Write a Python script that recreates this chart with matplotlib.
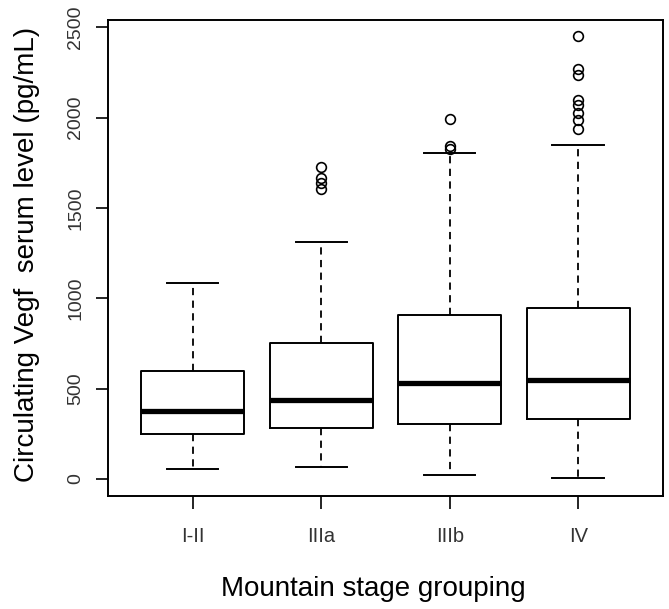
import matplotlib
matplotlib.use("Agg")
import matplotlib.pyplot as plt

# Werte (pg/mL)
groups = ["I-II", "IIIa", "IIIb", "IV"]
whisker_low = [54, 68, 20, 4]
q1 = [251, 281, 306, 331]
median = [376, 436, 533, 550]
q3 = [600, 753, 908, 949]
whisker_high = [1087, 1314, 1805, 1849]
outliers = [
    [],
    [1606, 1637, 1665, 1726],
    [1826, 1844, 1993],
    [1936, 1988, 2025, 2069, 2097, 2237, 2270, 2453],
]
y_ticks = [0, 500, 1000, 1500, 2000, 2500]

plt.rcParams['font.family'] = ['Liberation Sans', 'DejaVu Sans']

stats = []
for i, name in enumerate(groups):
    stats.append({
        'label': name,
        'whislo': whisker_low[i],
        'q1': q1[i],
        'med': median[i],
        'q3': q3[i],
        'whishi': whisker_high[i],
        'fliers': outliers[i],
    })

fig = plt.figure(figsize=(6.69, 6.09), dpi=100)
ax = fig.add_axes([0.1614, 0.1856, 0.8296, 0.7816])

ax.bxp(stats, positions=[1, 2, 3, 4], widths=0.8,
       boxprops=dict(color='black', linewidth=1.4),
       medianprops=dict(color='black', linewidth=3.8, solid_capstyle='butt'),
       whiskerprops=dict(color='black', linewidth=1.3, linestyle=(0, (4, 3))),
       capprops=dict(color='black', linewidth=1.4),
       capwidths=0.4,
       flierprops=dict(marker='o', markerfacecolor='none', markeredgecolor='black',
                       markersize=7, markeredgewidth=1.2))

ax.set_xlim(0.34, 4.66)
ax.set_ylim(-94, 2541)
ax.set_yticks(y_ticks)
ax.set_yticklabels([str(v) for v in y_ticks], rotation=90, va='center')
ax.set_xticks([1, 2, 3, 4])
ax.set_xticklabels(groups)

ax.tick_params(axis='y', length=9, width=1.2, labelsize=14, pad=8, labelcolor='#333333')
ax.tick_params(axis='x', length=9, width=1.2, labelsize=14.5, pad=13, labelcolor='#333333')
for sp in ax.spines.values():
    sp.set_linewidth(1.4)

ax.set_ylabel("Circulating Vegf  serum level (pg/mL)", fontsize=20)
ax.set_xlabel("Mountain stage grouping", fontsize=20)
# Beschriftungen wie im Original leicht versetzt
ax.yaxis.set_label_coords(-0.123, 0.508)
ax.xaxis.set_label_coords(0.478, -0.168)

fig.savefig("out.png", dpi=100)
